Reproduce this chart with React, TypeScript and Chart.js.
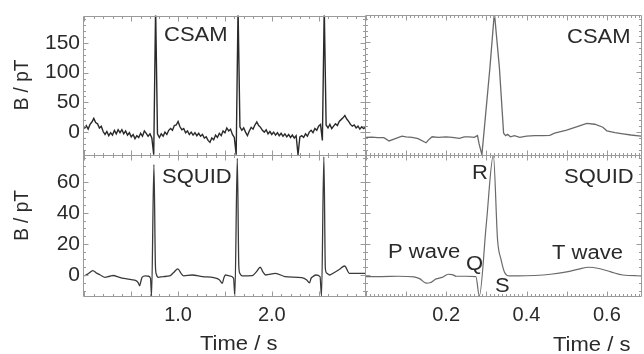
import React, { useEffect, useRef } from "react";
import { Chart, registerables } from "chart.js";

Chart.register(...registerables);

const FONT = '"Liberation Sans", Arial, Helvetica, sans-serif';
const INK = "#2a2a2a";
const FRAME = "#9a9a9a";

// ---------- tick labels ----------
const leftTimeTicks = [1, 2];
const rightTimeTicks = [0.2, 0.4, 0.6];
const csamTicks = [0, 50, 100, 150];
const squidTicks = [0, 20, 40, 60];

// ---------- left column: CSAM raw trace (sampled every 0.02 s from t = 0) ----------
const csamLeftStart = 0;
const csamLeftStep = 0.02;
const csamLeftValues = [
  6, 11, 5, 13, 17, 23, 16, 14, 7, 10,
  1, -4, 1, -6, -1, -5, 3, -3, 4, -1,
  4, -3, 2, -5, -1, -8, -4, -11, -6, -9,
  -2, -7, 2, -2, -7, -3, -10, -38, 210, -3,
  -9, -3, -7, 0, -4, 3, 6, 3, 11, 12,
  18, 9, 4, 6, -1, 2, -4, 0, -5, -1,
  -6, -2, -7, -4, -10, -8, -14, -17, -10, -13,
  -5, -9, -2, -6, 2, -1, 7, 2, 5, -4,
  -9, -38, 210, 9, 3, 7, 0, -6, 2, 8,
  5, 12, 17, 11, 8, 3, 0, 4, -3, 1,
  -4, 0, -5, -1, -6, -2, -7, -3, -8, -4,
  -9, -5, -10, -6, -38, -8, -6, -9, -3, -7,
  0, 3, -1, 6, 3, 10, 13, -14, 210, 12,
  7, 13, 6, 10, 14, 11, 18, 21, 24, 28,
  22, 18, 13, 10, 12, 7, 10, 5, 9, 6,
  8,
];

// ---------- left column: SQUID trace ----------
const squidLeftTime = [
  0, 0.04, 0.09, 0.13, 0.17, 0.22, 0.27, 0.31, 0.36, 0.42,
  0.5, 0.55, 0.575, 0.589, 0.603, 0.615, 0.65, 0.685, 0.705, 0.717,
  0.742, 0.758, 0.768, 0.79, 0.84, 0.91, 0.95, 0.998, 1.03, 1.06,
  1.15, 1.26, 1.38, 1.44, 1.472, 1.488, 1.505, 1.545, 1.592, 1.606,
  1.632, 1.648, 1.66, 1.685, 1.79, 1.835, 1.877, 1.905, 1.935, 2.04,
  2.14, 2.32, 2.37, 2.403, 2.42, 2.44, 2.47, 2.515, 2.531, 2.556,
  2.572, 2.59, 2.62, 2.65, 2.72, 2.777, 2.83, 2.9, 3.0,
];
const squidLeftValues = [
  -0.6, 0.8, 2.8, 1.2, 0, -1.5, -0.8, -0.3, -1.2, -2.2,
  -3, -3.6, -5, -6.9, -4, -1.5, -0.6, -0.8, -2, -13.5,
  71, 6, 0.5, -1.5, -1, -0.6, 1.5, 3.9, 1.2, -0.6,
  0, -1, -1.7, -3, -5.3, -2, 0, -0.6, -2, -13.5,
  75, 6, 1, -0.6, -0.4, 2, 5, 2, 0, 1,
  -1, -1.7, -3, -5, -2, -1, 0, -1, -13.5, 76,
  4, 1, 0, 1, 3.5, 5.8, 1, 1, 1,
];

// ---------- right column: averaged CSAM beat ----------
const csamRightTime = [
  0, 0.015, 0.03, 0.045, 0.058, 0.07, 0.09, 0.1, 0.115, 0.13,
  0.15, 0.158, 0.165, 0.18, 0.2, 0.215, 0.233, 0.245, 0.258, 0.27,
  0.278, 0.282, 0.289, 0.309, 0.32, 0.3325, 0.343, 0.348, 0.353, 0.36,
  0.37, 0.383, 0.4, 0.42, 0.44, 0.458, 0.47, 0.5, 0.53, 0.55,
  0.57, 0.59, 0.6, 0.62, 0.64, 0.66, 0.685,
];
const csamRightValues = [
  -9, -8.5, -9.5, -9.5, -15, -12, -7, -8, -9, -11,
  -18, -12, -8, -9, -8, -9, -10.5, -8, -8, -9,
  -6, -20, -38, 108, 200, 108, -2, -6, -4, -8,
  -6, -9, -7, -6, -6, -5.5, -2, 3, 10, 14.5,
  13, 8, 2, -1, -3, -5, -7,
];

// ---------- right column: averaged SQUID beat ----------
const squidRightTime = [
  0, 0.04, 0.08, 0.12, 0.135, 0.15, 0.16, 0.175, 0.19, 0.205,
  0.215, 0.225, 0.25, 0.274, 0.2825, 0.3, 0.3175, 0.328, 0.337, 0.345,
  0.357, 0.38, 0.42, 0.46, 0.5, 0.53, 0.555, 0.58, 0.61, 0.64,
  0.685,
];
const squidRightValues = [
  -1, -1, -0.8, -1.2, -2.5, -5.2, -5, -2.5, -1.5, 0.5,
  0.3, -0.8, -0.8, -1, -13.5, 33, 77, 22.5, 9.6, 2,
  -0.6, -0.6, -0.3, 0.5, 2, 3.8, 5, 4.2, 2, 0,
  -0.5,
];

// ---------- axis ranges ----------
const leftTimeRange = [-0.015, 2.995];
const rightTimeRange = [-0.002, 0.685];
const csamRange = [-38.5, 196];
const squidRange = [-13.5, 77.2];

type TextItem = { text: string; x: number; y: number; size: number; rot?: boolean; align?: CanvasTextAlign; base?: CanvasTextBaseline };

function makeTextPlugin(items: TextItem[]) {
  return {
    id: "texts",
    afterDraw(chart: any) {
      const ctx = chart.ctx as CanvasRenderingContext2D;
      for (const t of items) {
        ctx.save();
        ctx.fillStyle = INK;
        ctx.font = `${t.size}px ${FONT}`;
        ctx.textAlign = t.align || "left";
        ctx.textBaseline = t.base || "alphabetic";
        ctx.translate(t.x, t.y);
        ctx.scale(1.1, 1);
        if (t.rot) ctx.rotate(-Math.PI / 2);
        ctx.fillText(t.text, 0, 0);
        ctx.restore();
      }
    },
  };
}

function makeFramePlugin(xMinor: number, xMajor: number, yMinor: number, yMajor: number) {
  return {
    id: "frame",
    afterDatasetsDraw(chart: any) {
      const { ctx, chartArea: a, scales } = chart;
      const xs = scales.x;
      const ys = scales.y;
      const L = Math.round(a.left) + 0.5;
      const R = Math.round(a.right) + 0.5;
      const T = Math.round(a.top) + 0.5;
      const B = Math.round(a.bottom) + 0.5;
      ctx.save();
      ctx.strokeStyle = FRAME;
      ctx.lineWidth = 1;
      ctx.beginPath();
      ctx.rect(L, T, R - L, B - T);
      const isMajor = (v: number, m: number) => Math.abs(v / m - Math.round(v / m)) < 1e-6;
      for (let k = Math.ceil(xs.min / xMinor); k * xMinor <= xs.max + 1e-9; k++) {
        const v = k * xMinor;
        const p = Math.round(xs.getPixelForValue(v)) + 0.5;
        const len = isMajor(v, xMajor) ? 5 : 2.5;
        ctx.moveTo(p, T);
        ctx.lineTo(p, T + len);
        ctx.moveTo(p, B);
        ctx.lineTo(p, B - len);
      }
      for (let k = Math.ceil(ys.min / yMinor); k * yMinor <= ys.max + 1e-9; k++) {
        const v = k * yMinor;
        const p = Math.round(ys.getPixelForValue(v)) + 0.5;
        const len = isMajor(v, yMajor) ? 5 : 2.5;
        ctx.moveTo(L, p);
        ctx.lineTo(L + len, p);
        ctx.moveTo(R, p);
        ctx.lineTo(R - len, p);
      }
      ctx.stroke();
      ctx.restore();
    },
  };
}

type PanelCfg = {
  points: { x: number; y: number }[];
  color: string;
  width: number;
  smooth: boolean;
  padding: { left: number; right: number; top: number; bottom: number };
  xRange: number[];
  yRange: number[];
  showX: boolean;
  showY: boolean;
  xTicks: number[];
  yTicks: number[];
  xMinor: number;
  xMajor: number;
  yMinor: number;
  yMajor: number;
  texts: TextItem[];
};

function Panel({ cfg }: { cfg: PanelCfg }) {
  const ref = useRef<HTMLCanvasElement | null>(null);
  useEffect(() => {
    if (!ref.current) return;
    const xScale: any = {
      type: "linear",
      min: cfg.xRange[0],
      max: cfg.xRange[1],
      display: cfg.showX,
      grid: { display: false, drawTicks: false },
      border: { display: false },
      afterBuildTicks: (s: any) => {
        s.ticks = cfg.xTicks.map((v) => ({ value: v }));
      },
      ticks: {
        color: INK,
        font: { family: FONT, size: 20 },
        padding: 7,
        maxRotation: 0,
        autoSkip: false,
        callback: (v: any) => Number(v).toFixed(1),
      },
    };
    if (cfg.showX) xScale.afterFit = (s: any) => { s.height = 30; };
    const yScale: any = {
      type: "linear",
      min: cfg.yRange[0],
      max: cfg.yRange[1],
      display: cfg.showY,
      grid: { display: false, drawTicks: false },
      border: { display: false },
      afterBuildTicks: (s: any) => {
        s.ticks = cfg.yTicks.map((v) => ({ value: v }));
      },
      ticks: {
        color: INK,
        font: { family: FONT, size: 21 },
        padding: 3,
        autoSkip: false,
        callback: (v: any) => String(v),
      },
    };
    if (cfg.showY) yScale.afterFit = (s: any) => { s.width = 60; };

    const chart = new Chart(ref.current, {
      type: "line",
      data: {
        datasets: [
          {
            data: cfg.points,
            borderColor: cfg.color,
            borderWidth: cfg.width,
            pointRadius: 0,
            tension: 0,
            cubicInterpolationMode: cfg.smooth ? "monotone" : "default",
            fill: false,
          },
        ],
      },
      options: {
        animation: false,
        responsive: false,
        maintainAspectRatio: false,
        events: [],
        layout: { padding: cfg.padding },
        plugins: { legend: { display: false }, tooltip: { enabled: false } },
        scales: { x: xScale, y: yScale },
      },
      plugins: [makeFramePlugin(cfg.xMinor, cfg.xMajor, cfg.yMinor, cfg.yMajor), makeTextPlugin(cfg.texts)],
    } as any);
    return () => chart.destroy();
  }, [cfg]);
  return (
    <canvas
      ref={ref}
      width={644}
      height={354}
      style={{ position: "absolute", left: 0, top: 0, width: 644, height: 354 }}
    />
  );
}

const csamLeftPoints = csamLeftValues.map((v, i) => ({ x: csamLeftStart + i * csamLeftStep, y: v }));
const squidLeftPoints = squidLeftTime.map((t, i) => ({ x: t, y: squidLeftValues[i] }));
const csamRightPoints = csamRightTime.map((t, i) => ({ x: t, y: csamRightValues[i] }));
const squidRightPoints = squidRightTime.map((t, i) => ({ x: t, y: squidRightValues[i] }));

const panels: PanelCfg[] = [
  {
    points: csamLeftPoints,
    color: "#2a2a2a",
    width: 1.4,
    smooth: false,
    padding: { left: 23, right: 279, top: 15, bottom: 199 },
    xRange: leftTimeRange,
    yRange: csamRange,
    showX: false,
    showY: true,
    xTicks: leftTimeTicks,
    yTicks: csamTicks,
    xMinor: 0.1,
    xMajor: 0.5,
    yMinor: 10,
    yMajor: 50,
    texts: [
      { text: "B / pT", x: 22, y: 85, size: 19, rot: true, align: "center", base: "middle" },
      { text: "CSAM", x: 164, y: 40.7, size: 20 },
    ],
  },
  {
    points: squidLeftPoints,
    color: "#3a3a3a",
    width: 1.3,
    smooth: true,
    padding: { left: 23, right: 279, top: 155, bottom: 28 },
    xRange: leftTimeRange,
    yRange: squidRange,
    showX: true,
    showY: true,
    xTicks: leftTimeTicks,
    yTicks: squidTicks,
    xMinor: 0.1,
    xMajor: 0.5,
    yMinor: 5,
    yMajor: 20,
    texts: [
      { text: "B / pT", x: 22, y: 215.5, size: 19, rot: true, align: "center", base: "middle" },
      { text: "SQUID", x: 162, y: 182.7, size: 20 },
      { text: "Time / s", x: 200, y: 350, size: 20 },
    ],
  },
  {
    points: csamRightPoints,
    color: "#6a6a6a",
    width: 1.3,
    smooth: false,
    padding: { left: 365, right: 3, top: 15, bottom: 199 },
    xRange: rightTimeRange,
    yRange: csamRange,
    showX: false,
    showY: false,
    xTicks: rightTimeTicks,
    yTicks: csamTicks,
    xMinor: 0.01,
    xMajor: 0.1,
    yMinor: 10,
    yMajor: 50,
    texts: [{ text: "CSAM", x: 567, y: 42.7, size: 20 }],
  },
  {
    points: squidRightPoints,
    color: "#6a6a6a",
    width: 1.2,
    smooth: true,
    padding: { left: 365, right: 3, top: 155, bottom: 28 },
    xRange: rightTimeRange,
    yRange: squidRange,
    showX: true,
    showY: false,
    xTicks: rightTimeTicks,
    yTicks: squidTicks,
    xMinor: 0.01,
    xMajor: 0.1,
    yMinor: 5,
    yMajor: 20,
    texts: [
      { text: "SQUID", x: 564, y: 182.7, size: 20 },
      { text: "R", x: 472, y: 179.3, size: 20 },
      { text: "P wave", x: 388, y: 258.3, size: 20 },
      { text: "Q", x: 466, y: 270.3, size: 20 },
      { text: "S", x: 495, y: 292, size: 20 },
      { text: "T wave", x: 552, y: 258.5, size: 20 },
      { text: "Time / s", x: 553, y: 351, size: 20 },
    ],
  },
];

export default function App() {
  return (
    <div
      style={{
        position: "absolute",
        left: 0,
        top: 0,
        width: 644,
        height: 354,
        background: "#ffffff",
        overflow: "hidden",
      }}
    >
      {panels.map((p, i) => (
        <Panel key={i} cfg={p} />
      ))}
    </div>
  );
}
